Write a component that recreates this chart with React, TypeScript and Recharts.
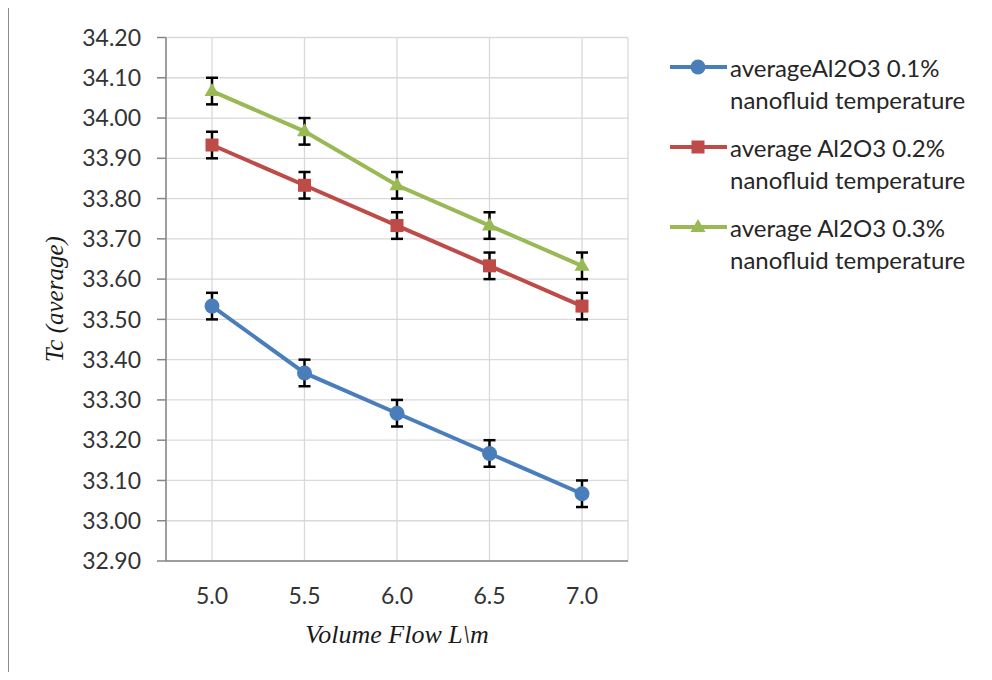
import React from "react";
import { LineChart, Line, XAxis, YAxis, CartesianGrid, ErrorBar } from "recharts";

const flows = ["5.0", "5.5", "6.0", "6.5", "7.0"];
const tc01 = [33.533, 33.367, 33.267, 33.167, 33.067];
const tc02 = [33.933, 33.833, 33.733, 33.633, 33.533];
const tc03 = [34.067, 33.967, 33.833, 33.733, 33.633];
const err01 = [0.033, 0.033, 0.033, 0.033, 0.033];
const err02 = [0.033, 0.033, 0.033, 0.033, 0.033];
const err03 = [0.033, 0.033, 0.033, 0.033, 0.033];
const yTicks = [32.9, 33.0, 33.1, 33.2, 33.3, 33.4, 33.5, 33.6, 33.7, 33.8, 33.9, 34.0, 34.1, 34.2];
const legendLines = [
  ["averageAl2O3 0.1%", "nanofluid temperature"],
  ["average Al2O3 0.2%", "nanofluid temperature"],
  ["average Al2O3 0.3%", "nanofluid temperature"],
];

const BLUE = "#4a7ebb";
const RED = "#be4b48";
const GREEN = "#98b954";
const FONT = "Lato, 'Open Sans', sans-serif";
const SERIF = "'Liberation Serif', 'Times New Roman', serif";

const data = flows.map((flow, i) => ({
  flow,
  s1: tc01[i],
  s2: tc02[i],
  s3: tc03[i],
  e1: err01[i],
  e2: err02[i],
  e3: err03[i],
}));

type Marker = "circle" | "square" | "triangle";

function markerShape(kind: Marker, color: string, cx: number, cy: number, key?: React.Key) {
  if (kind === "circle") return <circle key={key} cx={cx} cy={cy} r={7.5} fill={color} />;
  if (kind === "square") return <rect key={key} x={cx - 6.5} y={cy - 6.5} width={13} height={13} fill={color} />;
  return (
    <polygon
      key={key}
      points={`${cx},${cy - 8} ${cx - 7.5},${cy + 5} ${cx + 7.5},${cy + 5}`}
      fill={color}
    />
  );
}

const dotFor = (kind: Marker, color: string) => (p: any) =>
  markerShape(kind, color, p.cx, p.cy, `${kind}-${p.index}`);

const series: { key: string; err: string; color: string; marker: Marker }[] = [
  { key: "s1", err: "e1", color: BLUE, marker: "circle" },
  { key: "s2", err: "e2", color: RED, marker: "square" },
  { key: "s3", err: "e3", color: GREEN, marker: "triangle" },
];

function YTitle(props: any) {
  const vb = props.viewBox;
  const x = vb.x - 33;
  const y = vb.y + vb.height / 2;
  return (
    <text
      x={x}
      y={y}
      transform={`rotate(-90 ${x} ${y})`}
      textAnchor="middle"
      fontFamily={SERIF}
      fontStyle="italic"
      fontSize={25}
      fill="#1a1a1a"
    >
      Tc (average)
    </text>
  );
}

function XTitle(props: any) {
  const vb = props.viewBox;
  return (
    <text
      x={vb.x + vb.width / 2}
      y={vb.y + 82}
      textAnchor="middle"
      fontFamily={SERIF}
      fontStyle="italic"
      fontSize={26}
      fill="#1a1a1a"
    >
      Volume Flow L\m
    </text>
  );
}

function LegendBox() {
  return (
    <div style={{ position: "absolute", left: 662, top: 44, fontFamily: FONT, fontSize: 24, color: "#262626" }}>
      {series.map((s, i) => (
        <div key={s.key} style={{ display: "flex", alignItems: "flex-start", marginBottom: 17 }}>
          <svg width={60} height={32} style={{ flex: "none" }}>
            <line x1={0} y1={15} x2={57} y2={15} stroke={s.color} strokeWidth={4} />
            {markerShape(s.marker, s.color, 28, 15)}
          </svg>
          <div style={{ lineHeight: "31.5px" }}>
            {legendLines[i].map((t) => (
              <div key={t} style={{ whiteSpace: "nowrap" }}>{t}</div>
            ))}
          </div>
        </div>
      ))}
    </div>
  );
}

export default function App() {
  return (
    <div style={{ position: "relative", width: 984, height: 664, background: "#fff" }}>
      <LineChart width={984} height={664} data={data} margin={{ top: 29.5, right: 364, bottom: 0, left: 88 }}>
        <CartesianGrid stroke="#d9d9d9" strokeWidth={1.3} />
        <XAxis
          dataKey="flow"
          padding={{ left: 46, right: 46 }}
          tickLine={false}
          axisLine={{ stroke: "#868686", strokeWidth: 1.5 }}
          tick={{ fill: "#333", fontSize: 23, fontFamily: FONT }}
          tickSize={0}
          tickMargin={27}
          height={111}
          label={XTitle}
        />
        <YAxis
          domain={[32.9, 34.2]}
          ticks={yTicks}
          interval={0}
          tickFormatter={(v: number) => v.toFixed(2)}
          axisLine={{ stroke: "#868686", strokeWidth: 1.5 }}
          tickLine={{ stroke: "#868686", strokeWidth: 1.5 }}
          tick={{ fill: "#333", fontSize: 23, fontFamily: FONT }}
          tickSize={9}
          tickMargin={16}
          width={70}
          label={YTitle}
        />
        {series.map((s) => (
          <Line
            key={s.key}
            dataKey={s.key}
            stroke={s.color}
            strokeWidth={4}
            dot={dotFor(s.marker, s.color)}
            activeDot={false}
            isAnimationActive={false}
          >
            <ErrorBar dataKey={s.err} direction="y" width={6} stroke="#000" strokeWidth={2.5} />
          </Line>
        ))}
      </LineChart>
      <LegendBox />
      {/* frame: left and top edges only */}
      <div
        style={{
          position: "absolute",
          zIndex: 2,
          pointerEvents: "none",
          left: -1,
          top: -2,
          width: 985,
          height: 674,
          borderLeft: "2px solid #8c8c8c",
          borderTop: "2px solid #8c8c8c",
          boxSizing: "border-box",
        }}
      />
    </div>
  );
}
